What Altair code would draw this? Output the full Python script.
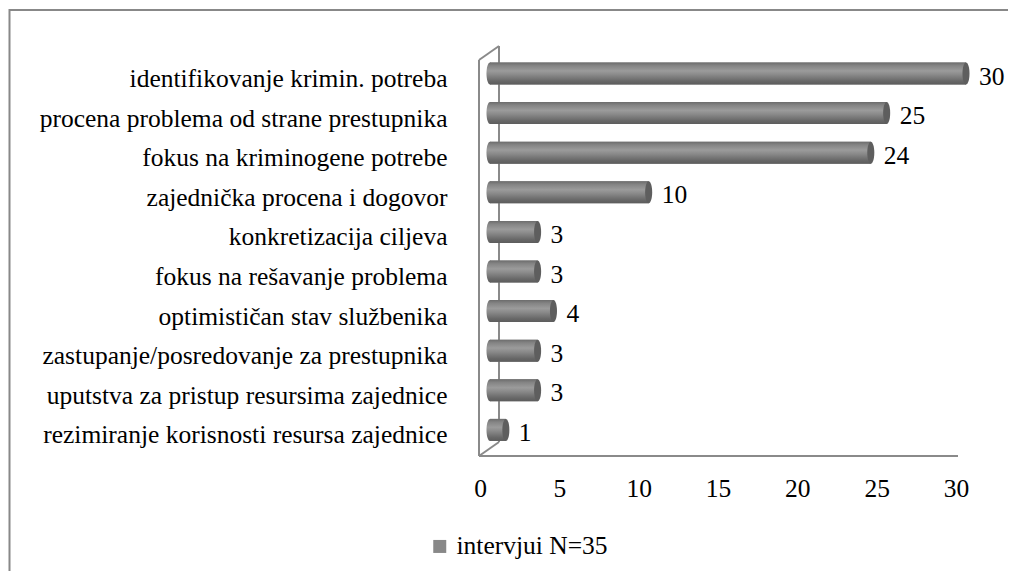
import altair as alt
import pandas as pd

categories = [
    "identifikovanje krimin. potreba",
    "procena problema od strane prestupnika",
    "fokus na kriminogene potrebe",
    "zajednička procena i dogovor",
    "konkretizacija ciljeva\u00a0",
    "fokus na rešavanje problema",
    "optimističan stav službenika",
    "zastupanje/posredovanje za prestupnika",
    "uputstva za pristup resursima zajednice",
    "rezimiranje korisnosti resursa zajednice",
]
values = [30, 25, 24, 10, 3, 3, 4, 3, 3, 1]
series_name = "intervjui N=35"
x_ticks = [0, 5, 10, 15, 20, 25, 30]

df = pd.DataFrame({"category": categories, "value": values, "series": [series_name] * len(values)})

FONT = "Liberation Serif"
FS = 25.5
LINE = "#8a8a8a"
W, H = 476, 396

ellipse = "M0,-1 A0.32,1 0 1,1 0,1 A0.32,1 0 1,1 0,-1 Z"

body_grad = alt.Gradient(
    gradient="linear", x1=0, y1=0, x2=0, y2=1,
    stops=[
        alt.GradientStop(color="#6c6c6c", offset=0),
        alt.GradientStop(color="#858585", offset=0.15),
        alt.GradientStop(color="#9b9b9b", offset=0.38),
        alt.GradientStop(color="#8a8a8a", offset=0.55),
        alt.GradientStop(color="#676767", offset=0.85),
        alt.GradientStop(color="#5c5c5c", offset=1),
    ],
)

xscale = alt.Scale(domain=[0, 30], nice=False, zero=True)
yscale = alt.Scale(domain=categories, paddingInner=0.444, paddingOuter=0.222)

x_axis = alt.Axis(values=x_ticks, title=None, grid=False, domain=False, ticks=False, tickSize=0,
                  labelFont=FONT, labelFontSize=FS, labelColor="black", labelPadding=27,
                  labelOffset=-10, labelFlush=False)
y_axis = alt.Axis(title=None, grid=False, domain=False, ticks=False, tickSize=0,
                  labelFont=FONT, labelFontSize=FS, labelColor="black", labelPadding=43,
                  labelLimit=600, labelOffset=5.5)

one = alt.Data(values=[{}])

border = alt.Chart(one).mark_rect(fill=None, stroke="#888888", strokeWidth=2).encode(
    x=alt.value(-480.5), y=alt.value(-43.7), x2=alt.value(1200), y2=alt.value(1200)
)

def rule(x, y, x2, y2):
    return alt.Chart(one).mark_rule(color=LINE, strokeWidth=2).encode(
        x=alt.value(x), y=alt.value(y), x2=alt.value(x2), y2=alt.value(y2)
    )

front_v = rule(-11, 6.3, -11, 402.3)
back_v = rule(9, -7.7, 9, 388.3)
top_d = rule(-11, 6.3, 9, -7.7)
bot_d = rule(-11, 402.3, 9, 388.3)
floor = rule(-11, 402.3, 468, 402.3)

base = alt.Chart(df)

left_cap = base.mark_point(shape=ellipse, size=484, filled=True, color=body_grad, opacity=1).encode(
    x=alt.X("zero:Q", scale=xscale, axis=x_axis),
    y=alt.Y("category:N", scale=yscale, sort=categories, axis=y_axis),
).transform_calculate(zero="0")

bars = base.mark_bar().encode(
    x=alt.X("value:Q", scale=xscale, axis=x_axis),
    y=alt.Y("category:N", scale=yscale, sort=categories, axis=y_axis),
    color=alt.Color(
        "series:N", scale=alt.Scale(range=["#888888"]),
        legend=alt.Legend(title=None, orient="none", legendX=-63, legendY=480, symbolType="square",
                          symbolSize=169, symbolStrokeWidth=0, labelFont=FONT, labelFontSize=FS,
                          labelColor="black", labelOffset=4, padding=0),
    ),
)

bars_shade = base.mark_bar(color=body_grad).encode(
    x=alt.X("value:Q", scale=xscale, axis=x_axis),
    y=alt.Y("category:N", scale=yscale, sort=categories, axis=y_axis),
)

right_cap = base.mark_point(shape=ellipse, size=484, filled=True, color="#5e5e5e", opacity=1).encode(
    x=alt.X("value:Q", scale=xscale, axis=x_axis),
    y=alt.Y("category:N", scale=yscale, sort=categories, axis=y_axis),
)

labels = base.mark_text(align="left", baseline="middle", dx=13, dy=3, font=FONT, fontSize=FS,
                        color="black").encode(
    x=alt.X("value:Q", scale=xscale, axis=x_axis),
    y=alt.Y("category:N", scale=yscale, sort=categories, axis=y_axis),
    text=alt.Text("value:Q"),
)

chart = alt.layer(
    border, back_v, top_d, front_v, bot_d, floor,
    left_cap, bars, bars_shade, right_cap, labels,
).properties(
    width=W, height=H,
    padding={"left": 482, "top": 45.7, "right": 42, "bottom": 121.3},
    autosize=alt.AutoSizeParams(type="none"),
    background="white",
).configure_view(stroke=None)

chart.save("out.html", embed_options={"renderer": "svg", "actions": False})
